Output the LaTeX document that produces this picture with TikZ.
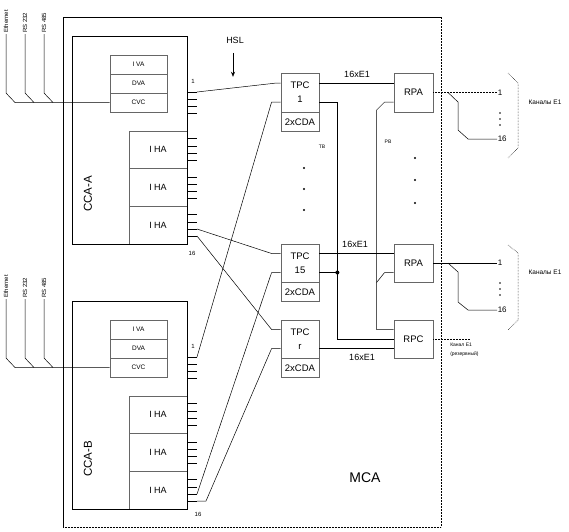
\documentclass[tikz,border=0pt]{standalone}
\usepackage{fontspec}
\setmainfont{Liberation Sans}
\usetikzlibrary{positioning,arrows.meta}

\begin{document}
\begin{tikzpicture}[x=1pt,y=-1pt,line width=0.5pt,
    blk/.style={draw=black!60,line width=0.8pt,inner sep=0pt,align=center,
      minimum width=38pt,font=\fontsize{9.5}{14}\selectfont},
    sub/.style={draw=black!60,line width=0.8pt,inner sep=0pt,
      minimum width=57pt,minimum height=19pt,font=\fontsize{6.5}{8}\selectfont},
    iha/.style={draw=black!60,line width=0.8pt,inner sep=0pt,
      minimum width=58pt,minimum height=37.7pt,font=\fontsize{9}{11}\selectfont},
    lbl/.style={inner sep=1pt,font=\fontsize{6}{7}\selectfont},
    port/.style={inner sep=0.5pt,anchor=west,font=\fontsize{8}{9}\selectfont},
    tiny/.style={inner sep=1pt,font=\fontsize{5}{9}\selectfont},
    iface/.style={inner sep=1pt,rotate=90,anchor=west,font=\fontsize{6}{7}\selectfont}]
  \useasboundingbox (0,0) rectangle (569,531);

  % MCA frame
  \draw (441,17) -- (63,17) -- (63,527);
  \draw[dash pattern=on 2pt off 1pt] (441,17) -- (441,527);
  \draw[densely dotted] (63,527) -- (441,527);
  \node[font=\fontsize{14}{16}\selectfont] (mca) at (365,478) {MCA};

  % CCA-A and CCA-B
  \foreach \s/\n in {0/A,265/B} {
    \begin{scope}[shift={(0,\s)}]
      \node[sub] (iva\n) at (138.5,64.5) {I VA};
      \node[sub] (dva\n) at (138.5,83.5) {DVA};
      \node[sub] (cvc\n) at (138.5,102.5) {CVC};
      \node[iha] (iha\n1) at (158,149.8) {I HA};
      \node[iha] (iha\n2) at (158,187.5) {I HA};
      \node[iha] (iha\n3) at (158,225.2) {I HA};
      \node[draw,line width=0.6pt,minimum width=115pt,minimum height=208pt] (cca\n) at (129.5,140) {};
      \node[rotate=90,font=\fontsize{11.5}{12}\selectfont] (name\n) at (88,194) {CCA-\n};
      \foreach \y [count=\k] in {92,99,106,113}
        \draw (187,\y) -- ++(10,0) coordinate (v\n\k);
      \foreach \y [count=\k] in {138,146,153,160,177,184,191,198,214,222,229,236}
        \draw (187,\y) -- ++(10,0) coordinate (h\n\k);
      \node[lbl] (one\n) at (193,81.5) {1};
      % inputs
      \node[iface] (eth\n) at (6,34) {Ethernet};
      \node[iface] (rsa\n) at (25,34) {RS 232};
      \node[iface] (rsb\n) at (44,34) {RS 485};
      \draw (eth\n.west) -- (6,93) -- (15,102.5) -- (cvc\n.west);
      \draw (rsa\n.west) -- (25,93) -- (34,102.5);
      \draw (rsb\n.west) -- (44,93) -- (53,102.5);
    \end{scope}
  }
  \node[lbl] (sixA) at (192,253) {16};
  \node[lbl] (sixB) at (198,514) {16};

  % TPC
  \node[blk,minimum height=39pt] (tpc1) at (300,92.5) {TPC\\1};
  \node[blk,minimum height=19pt,below=0pt of tpc1] (cda1) {2xCDA};
  \node[blk,minimum height=38pt] (tpc15) at (300,263) {TPC\\15};
  \node[blk,minimum height=19pt,below=0pt of tpc15] (cda15) {2xCDA};
  \node[blk,minimum height=38pt] (tpcr) at (300,339) {TPC\\r};
  \node[blk,minimum height=19pt,below=0pt of tpcr] (cdar) {2xCDA};

  % RPA / RPC
  \node[blk,minimum width=39pt,minimum height=39pt] (rpa1) at (413.5,92.5) {RPA};
  \node[blk,minimum width=39pt,minimum height=38pt] (rpa2) at (413.5,263) {RPA};
  \node[blk,minimum width=39pt,minimum height=38pt] (rpc) at (413.5,339) {RPC};

  \node[font=\fontsize{9}{11}\selectfont] (hsl) at (235,40) {HSL};
  \draw[-{Stealth[length=5pt,width=4pt]}] ([xshift=-2pt,yshift=-6pt]hsl.south) -- ++(0,24);

  % CCA to TPC
  \draw (vA1) -- ([xshift=-4pt,yshift=9.5pt]tpc1.west) -- ([yshift=9.5pt]tpc1.west);
  \draw (hA11) -- ([xshift=-9pt,yshift=9.5pt]tpc15.west) -- ([yshift=9.5pt]tpc15.west);
  \draw (hA12) -- ([xshift=-9pt,yshift=9.5pt]tpcr.west) -- ([yshift=9.5pt]tpcr.west);
  \draw (vB1) -- ([xshift=-9pt,yshift=-9.5pt]tpc1.west) -- ([yshift=-9.5pt]tpc1.west);
  \draw (hB11) -- ([xshift=-9pt,yshift=-9.5pt]tpc15.west) -- ([yshift=-9.5pt]tpc15.west);
  \draw (hB12) -- ++(9,0) -- ([xshift=-9pt,yshift=-9.5pt]tpcr.west) -- ([yshift=-9.5pt]tpcr.west);

  % TPC to RPA / RPC
  \draw ([yshift=9.5pt]tpc1.east) -- ([yshift=9.5pt]rpa1.west);
  \draw ([yshift=9.5pt]tpc15.east) -- ([yshift=9.5pt]rpa2.west);
  \draw ([yshift=-9.5pt]tpcr.east) -- ([yshift=-9.5pt]rpc.west);
  \node[font=\fontsize{9}{11}\selectfont] (eA) at (357,74) {16xE1};
  \node[font=\fontsize{9}{11}\selectfont] (eB) at (355,244) {16xE1};
  \node[font=\fontsize{9}{11}\selectfont] (eC) at (362,357) {16xE1};

  % TB
  \draw ([yshift=-9.5pt]tpc1.east) -- ++(18,0) |- (rpc.west);
  \draw ([yshift=-9.5pt]tpc15.east) -- ++(18,0) node[circle,fill,inner sep=0pt,minimum size=4pt]{};
  \node[tiny] (tb) at (322,147) {TB};
  \foreach \y in {168,189,210} \fill (304,\y) circle (1.1pt);

  % PB
  \draw ([yshift=-9.5pt]rpa1.west) -- ++(-9,0) -- ++(-8,8) |- ([yshift=9.5pt]rpc.west);
  \draw ([yshift=-9.5pt]rpa2.west) -- ++(-9,0) -- ++(-8,10);
  \node[tiny] (pb) at (388,142) {PB};
  \foreach \y in {158,180,203} \fill (415,\y) circle (1.1pt);

  % E1 channels
  \node[port] (pA1) at (497,92.5) {1};
  \node[port] (pA16) at (497,139) {16};
  \draw[densely dotted] (rpa1.east) -- (pA1.west);
  \draw (448,92.5) -- (458,102) -- (458,130) -- (468,139) -- (pA16.west);
  \foreach \y in {113,119,125} \fill (500,\y) circle (0.8pt);
  \draw[densely dotted] (508,73) -- (518,83) -- (518,148) -- (508,158);
  \node[tiny,font=\fontsize{6.5}{8}\selectfont] (chA) at (545,102) {Каналы E1};

  \node[port] (pB1) at (497,263) {1};
  \node[port] (pB16) at (497,310) {16};
  \draw (rpa2.east) -- (pB1.west);
  \draw (448,263) -- (458,272) -- (458,302) -- (468,310) -- (pB16.west);
  \foreach \y in {283,289,295} \fill (500,\y) circle (0.8pt);
  \draw[densely dotted] (508,245) -- (518,253) -- (518,320) -- (508,330);
  \node[tiny,font=\fontsize{6.5}{8}\selectfont] (chB) at (545,272) {Каналы E1};

  \coordinate (rout) at (470,339);
  \draw[densely dotted] (rpc.east) -- (rout);
  \node[tiny,align=left,anchor=north west] (rsv) at (449,342) {Канал E1\\(резервный)};
\end{tikzpicture}
\end{document}
